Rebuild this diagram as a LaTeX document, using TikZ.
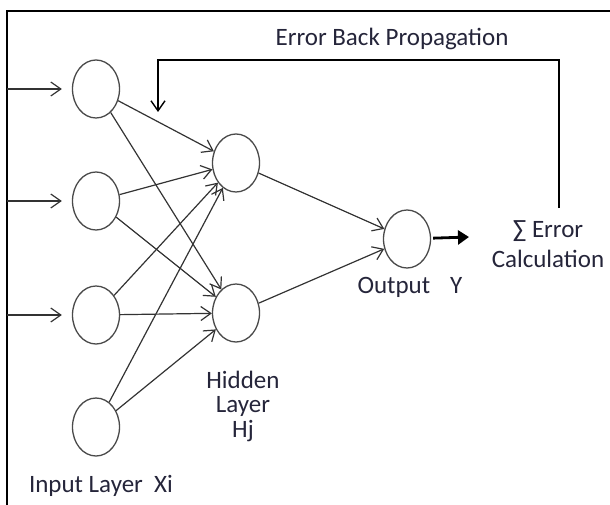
\documentclass[tikz,border=0pt]{standalone}
\usepackage{fontspec}
\setmainfont{Carlito}
\usetikzlibrary{arrows.meta,shapes.geometric,positioning}
\definecolor{nnInk}{HTML}{333333}
\definecolor{nnRing}{HTML}{4A4A4A}
\definecolor{nnText}{HTML}{25253A}
\tikzset{
  nnNeuron/.style={ellipse,draw=nnRing,line width=1.3pt,minimum width=47pt,
    minimum height=58pt,inner sep=0pt},
  nnEdge/.style={draw=nnInk,line width=1.2pt,-{Straight Barb[length=10pt,width=14pt]}},
  nnLabel/.style={text=nnText,font=\fontsize{25}{30}\selectfont,inner sep=0pt,align=center}
}
\begin{document}
\begin{tikzpicture}[x=1pt,y=-1pt,
  outarrow/.style={-{Triangle[length=11pt,width=14pt]},line width=2.8pt,draw=black}]
\useasboundingbox (0,0) rectangle (610,505);
% frame
\draw[line width=2pt] (7,505) -- (7,11) -- (610,11);
% layers
\node[nnNeuron] (x1) at (96,89) {};
\node[nnNeuron] (x2) at (96,201) {};
\node[nnNeuron] (x3) at (96,315) {};
\node[nnNeuron] (x4) at (96,427) {};
\node[nnNeuron] (h1) at (236,163) {};
\node[nnNeuron] (h2) at (236,313) {};
\node[nnNeuron] (y) at (407,239) {};
% labels
\node[nnLabel] (bplabel) at (392,39) {Error Back Propagation};
\node[nnLabel] (err) at (548,244) {∑ Error\\Calculation};
\node[nnLabel,anchor=base] (outlabel) at (410,293) {Output\hspace{0.8em}Y};
\node[nnLabel,font=\fontsize{25}{24}\selectfont] (hidlabel) at (243,406) {Hidden\\Layer\\[1pt]Hj};
\node[nnLabel,anchor=base] (inlabel) at (101,492) {Input Layer\ \ Xi};
% inputs
\foreach \i/\yy in {1/89,2/201,3/315}
  \draw[nnEdge,shorten >=10pt] (7,\yy) coordinate (in\i) -- (x\i);
% weights
\foreach \i in {1,...,4}
  \foreach \j in {1,2}
    \draw[nnEdge] (x\i) -- (h\j);
\draw[nnEdge] (h1) -- (y);
\draw[nnEdge] (h2) -- (y);
\coordinate (ytip) at (469,237);
\draw[outarrow,shorten <=2pt] (y) -- (ytip);
% feedback
\coordinate (fbstart) at (559,208);
\coordinate (fbcorner) at (559,60);
\coordinate (fbtip) at (158,112);
\draw[nnEdge,line width=1.4pt,draw=black,line join=miter] (fbstart) -- (fbcorner) -| (fbtip);
\end{tikzpicture}
\end{document}
